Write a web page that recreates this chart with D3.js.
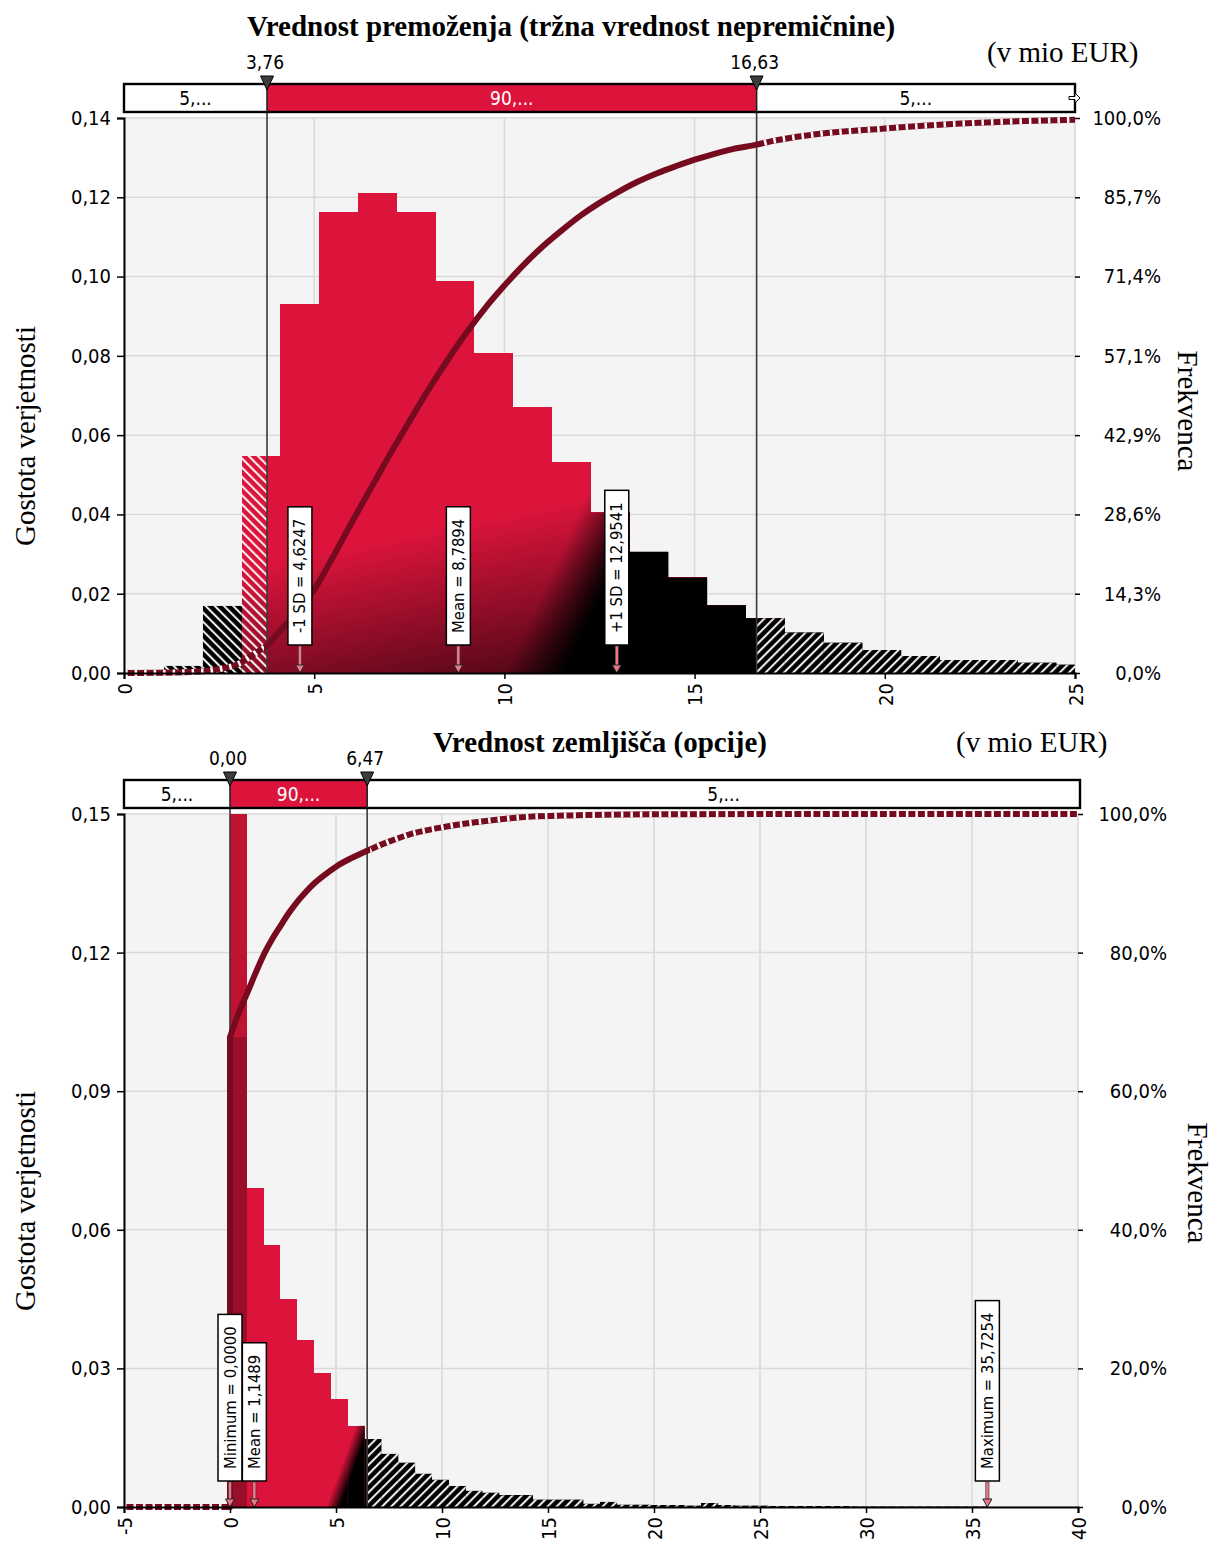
<!DOCTYPE html>
<html lang="sl">
<head>
<meta charset="UTF-8">
<title>Vrednost premoženja / Vrednost zemljišča</title>
<script src="https://cdn.jsdelivr.net/npm/d3@7"></script>
<style>
  body { margin: 0; background: #fff; }
  .tick text, .band text, .limit-label, .marker text {
    font-family: "DejaVu Sans Condensed", "DejaVu Sans", sans-serif;
    font-stretch: condensed;
    fill: #000;
  }
  .tick text { font-size: 20px; }
  .band text, .limit-label { font-size: 19px; }
  .marker text { font-size: 16.5px; }
  .title { font-family: "Liberation Serif", serif; font-weight: bold; font-size: 29px; }
  .unit, .axis-title { font-family: "Liberation Serif", serif; font-size: 29px; }
</style>
</head>
<body>
<svg width="1214" height="1550"></svg>
<script>
// ---------- top chart: Vrednost premoženja ----------
const topBinStart = 0.03;
const topBinWidth = 1.02;
const topDensity = [0.0008, 0.0018, 0.0170, 0.0548, 0.0930, 0.1163, 0.1210, 0.1163, 0.0988,
  0.0808, 0.0670, 0.0533, 0.0405, 0.0306, 0.0241, 0.0171, 0.0138, 0.0102, 0.0076, 0.0058,
  0.0043, 0.0033, 0.0033, 0.0026, 0.0021];
const topCdfX = [0.03, 1, 2, 2.5, 3, 3.5, 3.76, 4, 4.5, 5, 5.5, 6, 6.5, 7, 7.5, 8, 8.5, 9, 9.5,
  10, 10.5, 11, 11.5, 12, 12.5, 13, 13.5, 14, 14.5, 15, 15.5, 16, 16.63, 17, 18, 19, 20, 21,
  22, 23, 24, 25];
const topCdfP = [0, 0.05, 0.25, 0.7, 1.6, 3.8, 5.0, 6.8, 10.5, 15, 21, 27.3, 33.4, 39.5, 45.3,
  51, 56.3, 61.3, 65.8, 69.8, 73.5, 76.8, 79.7, 82.4, 84.7, 86.7, 88.5, 90, 91.3, 92.5, 93.5,
  94.4, 95.2, 95.8, 96.9, 97.6, 98.1, 98.6, 99.0, 99.3, 99.5, 99.7];
const topLimits = [3.76, 16.63];
const topLimitLabels = ["3,76", "16,63"];
const topBandLabels = ["5,...", "90,...", "5,..."];
const topMarkerNames = ["-1 SD = 4,6247", "Mean = 8,7894", "+1 SD = 12,9541"];
const topMarkerValues = [4.6247, 8.7894, 12.9541];
const topYTicks = [0, 0.02, 0.04, 0.06, 0.08, 0.10, 0.12, 0.14];
const topYTickLabels = ["0,00", "0,02", "0,04", "0,06", "0,08", "0,10", "0,12", "0,14"];
const topFreqLabels = ["0,0%", "14,3%", "28,6%", "42,9%", "57,1%", "71,4%", "85,7%", "100,0%"];
const topXTicks = [0, 5, 10, 15, 20, 25];

// ---------- bottom chart: Vrednost zemljišča ----------
const botBinStart = 0;
const botBinWidth = 0.7939;
const botDensity = [0.925, 0.0690, 0.0568, 0.0450, 0.0362, 0.0290, 0.0234, 0.0176, 0.0147,
  0.0115, 0.0096, 0.0072, 0.0059, 0.0045, 0.0035, 0.0031, 0.0025, 0.0025, 0.0016, 0.0016,
  0.0016, 0.0007, 0.0011, 0.0005, 0.0005, 0.0004, 0.0004, 0.0003, 0.0008, 0.0004, 0.0003,
  0.0003, 0.0002, 0.0002, 0.0002, 0.0002, 0.0002, 0.0001, 0.0001, 0.0001, 0.0001, 0.0001,
  0.0001, 0.0001, 0.0001];
const botCdfX = [-5, 0, 0, 0.4, 0.83, 1.2, 1.64, 2.0, 2.37, 2.75, 3.16, 3.5, 3.98, 4.5, 5.0,
  5.7, 6.47, 7.4, 8.4, 9.86, 12.06, 13.6, 16, 20, 25, 40];
const botCdfP = [0, 0, 67.8, 71.2, 74.3, 77.0, 80, 82.0, 83.8, 85.6, 87.3, 88.5, 90.0, 91.3, 92.4,
  93.6, 94.7, 95.9, 97, 98, 99, 99.5, 99.8, 99.95, 100, 100];
const botLimits = [0.0, 6.47];
const botLimitLabels = ["0,00", "6,47"];
const botBandLabels = ["5,...", "90,...", "5,..."];
const botMarkerNames = ["Minimum = 0,0000", "Mean = 1,1489", "Maximum = 35,7254"];
const botMarkerValues = [0.0, 1.1489, 35.7254];
const botYTicks = [0, 0.03, 0.06, 0.09, 0.12, 0.15];
const botYTickLabels = ["0,00", "0,03", "0,06", "0,09", "0,12", "0,15"];
const botFreqLabels = ["0,0%", "20,0%", "40,0%", "60,0%", "80,0%", "100,0%"];
const botXTicks = [-5, 0, 5, 10, 15, 20, 25, 30, 35, 40];

const RED = "#dc143c";
const MAROON = "#760a1e";

const svg = d3.select("svg");
const defs = svg.append("defs");

function hatch(id, angle) {
  defs.append("pattern").attr("id", id)
    .attr("patternUnits", "userSpaceOnUse")
    .attr("width", 6.5).attr("height", 6.5)
    .attr("patternTransform", `rotate(${angle})`)
    .append("rect").attr("x", 2).attr("y", 0)
    .attr("width", 1.9).attr("height", 6.5).attr("fill", "#fff");
}
hatch("hatchLeft", -45);
hatch("hatchRight", 45);

function drawChart(c) {
  const g = svg.append("g");
  const x = d3.scaleLinear().domain(c.xDomain).range([c.left, c.right]);
  const y = d3.scaleLinear().domain([0, c.yMax]).range([c.bottom, c.top]);
  const p = d3.scaleLinear().domain([0, 100]).range([c.bottom, c.top]);

  // titles
  g.append("text").attr("class", "title").attr("x", c.titleX).attr("y", c.titleY)
    .attr("text-anchor", "middle").text(c.title);
  g.append("text").attr("class", "unit").attr("x", c.unitX).attr("y", c.unitY).text("(v mio EUR)");
  g.append("text").attr("class", "axis-title")
    .attr("transform", `translate(${c.leftTitleX},${c.leftTitleY}) rotate(-90)`)
    .attr("text-anchor", "middle").attr("dominant-baseline", "central")
    .text("Gostota verjetnosti");
  g.append("text").attr("class", "axis-title")
    .attr("transform", `translate(${c.rightTitleX},${c.rightTitleY}) rotate(90)`)
    .attr("text-anchor", "middle").attr("dominant-baseline", "central")
    .text("Frekvenca");

  // plot background + grid
  g.append("rect").attr("x", c.left).attr("y", c.top)
    .attr("width", c.right - c.left).attr("height", c.bottom - c.top)
    .attr("fill", "#f4f4f4").attr("stroke", "#d8d8d8").attr("stroke-width", 1.5);
  g.append("g").selectAll("line").data(c.yTicks.slice(1, -1)).join("line")
    .attr("x1", c.left).attr("x2", c.right).attr("y1", d => y(d)).attr("y2", d => y(d))
    .attr("stroke", "#d9d9d9").attr("stroke-width", 1.5);
  g.append("g").selectAll("line").data(c.xTicks.slice(1, -1)).join("line")
    .attr("y1", c.top).attr("y2", c.bottom).attr("x1", d => x(d)).attr("x2", d => x(d))
    .attr("stroke", "#d9d9d9").attr("stroke-width", 1.5);

  // clip to plot area
  defs.append("clipPath").attr("id", c.id + "-plot")
    .append("rect").attr("x", c.left).attr("y", c.top)
    .attr("width", c.right - c.left).attr("height", c.bottom - c.top);

  // histogram pieces, split at the limits
  const pieces = [];
  c.density.forEach((h, i) => {
    const a = c.binStart + i * c.binWidth, b = a + c.binWidth;
    const lo = Math.max(a, c.xDomain[0]), hi = Math.min(b, c.xDomain[1]);
    if (hi <= lo) return;
    const straddle = c.limits.some(L => a < L && b > L);
    const cuts = [lo, ...c.limits.filter(L => L > lo && L < hi), hi];
    for (let k = 0; k < cuts.length - 1; k++) {
      const m = (cuts[k] + cuts[k + 1]) / 2;
      const zone = m < c.limits[0] ? "left" : m > c.limits[1] ? "right" : "mid";
      pieces.push({ x0: cuts[k], x1: cuts[k + 1], h: Math.min(h, c.yMax * 1.01), zone, straddle, i });
    }
  });

  const bars = g.append("g").attr("clip-path", `url(#${c.id}-plot)`);
  const rectAttrs = sel => sel
    .attr("x", d => x(d.x0)).attr("width", d => x(d.x1) - x(d.x0))
    .attr("y", d => y(d.h)).attr("height", d => c.bottom - y(d.h));

  bars.selectAll("rect.base").data(pieces).join("rect").attr("class", "base")
    .call(rectAttrs)
    .attr("fill", d => d.i === 0 && c.firstBinFill ? c.firstBinFill
      : (d.zone === "mid" || d.straddle) ? RED : "#000")
    .attr("shape-rendering", "crispEdges");

  // dark shading (gradient towards black), darkness = a + b*x - c*h
  const barClip = defs.append("clipPath").attr("id", c.id + "-bars");
  barClip.selectAll("rect").data(pieces).join("rect").call(rectAttrs);
  const kx = (c.right - c.left) / (c.xDomain[1] - c.xDomain[0]);
  const ky = (c.bottom - c.top) / c.yMax;
  c.shades.forEach((s, j) => {
    const gx = s.b / kx, gy = s.c / ky, g2 = gx * gx + gy * gy;
    const xm = (c.xDomain[0] + c.xDomain[1]) / 2;
    const px0 = x(xm), py0 = y((s.a + s.b * xm) / s.c);
    const grad = defs.append("linearGradient").attr("id", `${c.id}-shade${j}`)
      .attr("gradientUnits", "userSpaceOnUse")
      .attr("x1", px0).attr("y1", py0)
      .attr("x2", px0 + gx / g2).attr("y2", py0 + gy / g2);
    grad.append("stop").attr("offset", 0).attr("stop-color", "#000").attr("stop-opacity", 0);
    grad.append("stop").attr("offset", 1).attr("stop-color", "#000").attr("stop-opacity", 1);
    bars.append("rect").attr("x", c.left).attr("y", c.top)
      .attr("width", c.right - c.left).attr("height", c.bottom - c.top)
      .attr("fill", `url(#${c.id}-shade${j})`).attr("clip-path", `url(#${c.id}-bars)`);
  });

  // spike of zeros under the cdf jump
  if (c.spikeShade) {
    const first = pieces.find(d => d.i === 0 && d.zone === "mid");
    const jump = c.cdfP[c.cdfX.lastIndexOf(c.limits[0])];
    bars.append("rect").attr("x", x(first.x0)).attr("width", x(first.x1) - x(first.x0))
      .attr("y", p(jump)).attr("height", c.bottom - p(jump))
      .attr("fill", "#000").attr("opacity", c.spikeShade);
  }

  bars.selectAll("rect.hatch").data(pieces.filter(d => d.zone !== "mid")).join("rect")
    .attr("class", "hatch").call(rectAttrs)
    .attr("fill", d => d.zone === "left" ? "url(#hatchLeft)" : "url(#hatchRight)");

  // limit lines
  g.append("g").selectAll("line").data(c.limits).join("line")
    .attr("x1", d => x(d)).attr("x2", d => x(d))
    .attr("y1", c.bandTop).attr("y2", c.bottom)
    .attr("stroke", "#3a3a3a").attr("stroke-width", 1.6);

  // cumulative curve (a vertical jump is kept straight, the rest is smoothed)
  const pts = c.cdfX.map((v, i) => [v, c.cdfP[i]]);
  const jumpAt = c.cdfX.findIndex((v, i) => i > 0 && v === c.cdfX[i - 1]);
  const smooth = d3.line().x(d => x(d[0])).y(d => p(d[1])).curve(d3.curveMonotoneX);
  const straight = d3.line().x(d => x(d[0])).y(d => p(d[1]));
  const cdfPath = jumpAt > 0
    ? straight(pts.slice(0, jumpAt + 1)) + smooth(pts.slice(jumpAt)).replace(/^M[^LC]*/, "")
    : smooth(pts);
  g.append("path").attr("d", cdfPath).attr("fill", "none")
    .attr("stroke", MAROON).attr("stroke-width", 6).attr("stroke-linejoin", "round");
  const tails = defs.append("clipPath").attr("id", c.id + "-tails");
  tails.append("rect").attr("x", c.left - 10).attr("y", c.top - 10)
    .attr("width", x(c.limits[0]) - 3 - c.left + 10).attr("height", c.bottom - c.top + 20);
  tails.append("rect").attr("x", x(c.limits[1]) + 3).attr("y", c.top - 10)
    .attr("width", c.right + 10 - x(c.limits[1]) - 3).attr("height", c.bottom - c.top + 20);
  g.append("path").attr("d", cdfPath).attr("fill", "none")
    .attr("stroke", "#fff").attr("stroke-width", 6).attr("stroke-dasharray", "2.5,7")
    .attr("clip-path", `url(#${c.id}-tails)`);

  // statistic markers
  c.markerNames.forEach((name, i) => {
    const cx = x(c.markerValues[i]);
    const boxBottom = c.bottom - c.boxGap;
    const pad = 12;
    const mg = g.append("g").attr("class", "marker");
    const t = mg.append("text")
      .attr("transform", `translate(${cx},${boxBottom - pad}) rotate(-90)`)
      .attr("dominant-baseline", "central").text(name);
    const len = t.node().getComputedTextLength();
    mg.insert("rect", "text").attr("x", cx - 12).attr("width", 24)
      .attr("y", boxBottom - len - 2 * pad).attr("height", len + 2 * pad)
      .attr("fill", "#fff").attr("stroke", "#000").attr("stroke-width", 1.5);
    mg.append("rect").attr("x", cx - 1.6).attr("width", 3.2)
      .attr("y", boxBottom + 1).attr("height", c.boxGap - 8)
      .attr("fill", "#e8788a").attr("stroke", "#333").attr("stroke-width", 0.6);
    mg.append("path")
      .attr("d", `M${cx - 4.5},${c.bottom - 8} L${cx + 4.5},${c.bottom - 8} L${cx},${c.bottom} Z`)
      .attr("fill", "#e8788a").attr("stroke", "#222").attr("stroke-width", 1);
  });

  // axes
  const yAxis = g.append("g").attr("transform", `translate(${c.left},0)`)
    .call(d3.axisLeft(y).tickValues(c.yTicks).tickFormat((d, i) => c.yTickLabels[i])
      .tickSize(7).tickPadding(6));
  yAxis.select(".domain").attr("stroke-width", 2);
  yAxis.selectAll(".tick line").attr("stroke-width", 1.5);

  const rAxis = g.append("g").attr("transform", `translate(${c.right},0)`)
    .call(d3.axisRight(y).tickValues(c.yTicks).tickFormat((d, i) => c.freqLabels[i]).tickSize(5));
  rAxis.select(".domain").remove();
  rAxis.selectAll(".tick line").attr("stroke-width", 1.5);
  rAxis.selectAll(".tick text").attr("text-anchor", "end").attr("x", c.freqRight - c.right);

  const xAxis = g.append("g").attr("transform", `translate(0,${c.bottom})`)
    .call(d3.axisBottom(x).tickValues(c.xTicks).tickFormat(d => String(d)).tickSize(6));
  xAxis.select(".domain").attr("stroke-width", 2);
  xAxis.selectAll(".tick line").attr("stroke-width", 1.5);
  xAxis.selectAll(".tick text").attr("transform", "rotate(-90)")
    .attr("text-anchor", "end").attr("x", -10).attr("y", 0).attr("dy", "0.36em");

  // delimiter band
  const band = g.append("g").attr("class", "band");
  const xl = x(c.limits[0]), xr = x(c.limits[1]);
  band.append("rect").attr("x", c.left).attr("y", c.bandTop)
    .attr("width", c.bandRight - c.left).attr("height", c.bandH).attr("fill", "#fff");
  band.append("rect").attr("x", xl).attr("y", c.bandTop)
    .attr("width", xr - xl).attr("height", c.bandH).attr("fill", RED);
  band.append("rect").attr("x", c.left).attr("y", c.bandTop)
    .attr("width", c.bandRight - c.left).attr("height", c.bandH)
    .attr("fill", "none").attr("stroke", "#000").attr("stroke-width", 2.4);
  band.append("g").selectAll("line").data(c.limits).join("line")
    .attr("x1", d => x(d)).attr("x2", d => x(d))
    .attr("y1", c.bandTop).attr("y2", c.bandTop + c.bandH)
    .attr("stroke", "#222").attr("stroke-width", 1.6);
  const centers = [(c.left + xl) / 2, (xl + xr) / 2, (xr + c.bandRight) / 2];
  band.append("g").selectAll("text").data(c.bandLabels).join("text")
    .attr("x", (d, i) => centers[i]).attr("y", c.bandTop + c.bandH / 2)
    .attr("dy", "0.36em").attr("text-anchor", "middle")
    .style("fill", (d, i) => i === 1 ? "#fff" : "#000").text(d => d);
  if (c.bandArrow) {
    const ax = c.bandRight, ay = c.bandTop + c.bandH / 2;
    band.append("path")
      .attr("d", `M${ax - 6},${ay - 1.5} L${ax},${ay - 1.5} L${ax},${ay - 5} L${ax + 5},${ay} L${ax},${ay + 5} L${ax},${ay + 1.5} L${ax - 6},${ay + 1.5} Z`)
      .attr("fill", "#fff").attr("stroke", "#000").attr("stroke-width", 1);
  }

  // limit triangles + labels
  c.limits.forEach((L, i) => {
    const lx = x(L);
    g.append("path")
      .attr("d", `M${lx - 6.5},${c.bandTop - 8} L${lx + 6.5},${c.bandTop - 8} L${lx},${c.bandTop + 6} Z`)
      .attr("fill", "#3c3c3c").attr("stroke", "#000").attr("stroke-width", 1);
    g.append("text").attr("class", "limit-label")
      .attr("x", lx - 2).attr("y", c.bandTop - 15).attr("text-anchor", "middle")
      .text(c.limitLabels[i]);
  });
}

drawChart({
  id: "top", title: "Vrednost premoženja (tržna vrednost nepremičnine)",
  titleX: 571, titleY: 36, unitX: 987, unitY: 62,
  leftTitleX: 25, leftTitleY: 436, rightTitleX: 1188, rightTitleY: 411,
  left: 124, right: 1075, top: 118, bottom: 673,
  bandTop: 84, bandH: 28, bandRight: 1075, bandArrow: true,
  xDomain: [0, 25], yMax: 0.14, freqRight: 1161,
  binStart: topBinStart, binWidth: topBinWidth, density: topDensity,
  cdfX: topCdfX, cdfP: topCdfP,
  limits: topLimits, limitLabels: topLimitLabels, bandLabels: topBandLabels,
  markerNames: topMarkerNames, markerValues: topMarkerValues, boxGap: 28,
  yTicks: topYTicks, yTickLabels: topYTickLabels, freqLabels: topFreqLabels, xTicks: topXTicks,
  shades: [{ a: 0.3, b: 0.03, c: 15 }, { a: -6.41, b: 0.64, c: 30.8 }]
});

drawChart({
  id: "bot", title: "Vrednost zemljišča (opcije)",
  titleX: 600, titleY: 752, unitX: 956, unitY: 752,
  leftTitleX: 25, leftTitleY: 1201, rightTitleX: 1198, rightTitleY: 1183,
  left: 124, right: 1078, top: 814, bottom: 1507,
  bandTop: 780, bandH: 28, bandRight: 1080, bandArrow: false,
  xDomain: [-5, 40], yMax: 0.15, freqRight: 1167,
  binStart: botBinStart, binWidth: botBinWidth, density: botDensity,
  cdfX: botCdfX, cdfP: botCdfP,
  limits: botLimits, limitLabels: botLimitLabels, bandLabels: botBandLabels,
  markerNames: botMarkerNames, markerValues: botMarkerValues, boxGap: 26,
  yTicks: botYTicks, yTickLabels: botYTickLabels, freqLabels: botFreqLabels, xTicks: botXTicks,
  firstBinFill: "#c01233", spikeShade: 0.2,
  shades: [{ a: -6.9, b: 1.52, c: 121 }]
});
</script>
</body>
</html>
